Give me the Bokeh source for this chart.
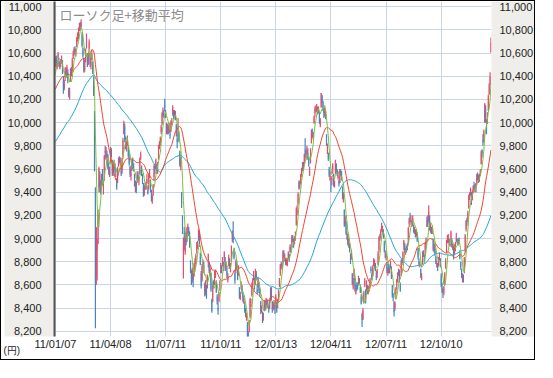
import numpy as np
import pandas as pd
from bokeh.plotting import figure
from bokeh.models import (ColumnDataSource, FixedTicker, NumeralTickFormatter,
                          LinearAxis, Label, Range1d, Title)
from bokeh.embed import file_html
from bokeh.resources import INLINE

title_text = "ローソク足+移動平均"
unit_text = "(円)"

# closes before the first shown bar (2010-09-01 .. 2011-01-06), used only for the moving averages
warmup_close = [
    8927, 9062, 9114, 9301, 9226, 9024, 9098, 9239, 9321, 9299, 9516, 9509, 9626, 9602, 9566, 9471, 9603, 9495, 9559, 9369,
    9404, 9381, 9518, 9691, 9684, 9589, 9388, 9403, 9583, 9500, 9498, 9539, 9381, 9377, 9426, 9401, 9377, 9387, 9366, 9202,
    9154, 9159, 9358, 9625, 9732, 9694, 9830, 9861, 9724, 9827, 9797, 9811, 10013, 10022, 10115, 10030, 10079, 10039, 10125, 9937,
    9988, 10168, 10178, 10167, 10141, 10232, 10285, 10211, 10293, 10316, 10309, 10311, 10303, 10216, 10370, 10346, 10279, 10355, 10292, 10344, 10229,
    10398, 10380, 10529,
]

# daily bars 2011-01-07 .. 2013-01-04, one line per month
open_ = [
    10500,10560,10480,10560,10530,10470,10510,10540,10520,10380,10300,10390,10450,10430,10430,10280,
    10230,10380,10460,10440,10570,10600,10630,10590,10660,10720,10730,10800,10850,10830,10760,10640,10560,10450,10530,
    10650,10590,10500,10640,10600,10490,10560,10520,10320,10044,9441,8680,8900,8960,9440,9550,9440,9500,9520,9430,9500,9740,
    9760,9700,9720,9600,9560,9700,9760,9660,9560,9650,9620,9560,9500,9500,9680,9700,9660,9600,9590,9720,
    9900,9960,9840,9790,9850,9800,9700,9620,9540,9600,9680,9620,9550,9440,9480,9490,9550,9490,9560,
    9700,9620,9520,9450,9380,9460,9430,9480,9420,9440,9560,9500,9380,9330,9380,9530,9620,9620,9610,9570,9700,9800,
    9840,9920,9990,10060,10080,10150,10080,9960,9900,9950,9920,9900,9930,10000,10070,10090,10050,10080,9980,9860,
    9900,9880,9750,9620,9400,9120,8900,9050,8880,9030,8990,9090,9080,8980,8810,8700,8650,8700,8680,8760,8800,8900,8950,
    8990,8990,8840,8700,8640,8770,8770,8600,8540,8600,8580,8790,8780,8690,8700,8470,8460,8620,8620,8690,
    8620,8500,8400,8460,8600,8710,8750,8760,8790,8830,8800,8740,8720,8640,8760,8800,8720,8820,9000,9010,
    8900,8700,8720,8780,8720,8700,8580,8480,8580,8580,8520,8440,8420,8360,8300,8250,8170,8200,8330,8420,
    8510,8600,8660,8650,8620,8690,8560,8600,8600,8540,8460,8380,8360,8300,8380,8420,8420,8470,8430,8400,8400,
    8550,8520,8460,8400,8420,8420,8420,8450,8400,8500,8600,8700,8780,8750,8800,8870,8830,8830,8780,
    8800,8840,8860,8880,8920,8950,9010,8960,8970,9000,9120,9230,9300,9440,9480,9480,9570,9600,9650,9650,9770,
    9700,9740,9740,9680,9560,9650,9830,9920,9870,10000,10080,10120,10100,10130,10090,10090,9980,10130,10230,10180,10100,
    10060,10090,9900,9760,9740,9600,9500,9460,9500,9600,9560,9450,9560,9640,9580,9520,9500,9480,9580,9540,
    9440,9360,9250,9120,9150,9000,9040,8940,8950,8870,8830,8700,8580,8670,8660,8520,8600,8600,8620,8640,8580,
    8500,8350,8300,8450,8600,8560,8600,8570,8540,8560,8600,8740,8690,8680,8790,8780,8760,8680,8700,8780,8900,
    9000,9030,9080,9060,9050,8960,8860,8840,8780,8700,8760,8700,8790,8740,8560,8490,8450,8400,8520,8620,8640,
    8700,8700,8600,8680,8810,8820,8940,8950,8880,8900,8940,8960,9130,9180,9150,9160,9110,9100,9040,9070,9020,9050,8920,
    8800,8770,8740,8650,8800,8880,8830,8860,8960,9100,9180,9150,9190,9060,9090,9060,8980,8900,8920,
    8840,8780,8780,8760,8840,8830,8680,8580,8540,8530,8620,8770,8880,9000,8980,8980,8940,8990,8990,8910,8900,8870,
    8920,8980,9000,8950,9000,8860,8800,8700,8640,8680,8720,8900,9080,9150,9150,9260,9360,9390,9400,9330,9420,
    9460,9450,9400,9490,9550,9480,9540,9550,9640,9760,9850,9850,10000,10120,10000,9990,10100,10240,10330,10604,
]
high = [
    10570,10580,10540,10610,10560,10530,10550,10580,10540,10400,10370,10480,10470,10500,10460,10300,
    10300,10470,10480,10560,10620,10650,10660,10640,10740,10780,10820,10860,10870,10891,10780,10650,10560,10540,10640,
    10770,10600,10600,10720,10600,10560,10630,10530,10400,10100,9441,9100,9000,9250,9620,9580,9500,9560,9600,9500,9720,9800,
    9790,9760,9730,9650,9620,9790,9780,9680,9660,9680,9650,9610,9520,9620,9700,9710,9700,9640,9700,9870,
    10017,9990,9880,9840,9890,9810,9740,9630,9600,9680,9700,9650,9560,9500,9490,9580,9580,9530,9700,
    9750,9630,9560,9480,9460,9480,9490,9560,9450,9560,9600,9510,9420,9380,9470,9640,9630,9690,9640,9660,9810,9840,
    9880,9980,10090,10130,10110,10207,10110,10000,9990,9980,10000,9940,10020,10040,10150,10110,10110,10100,9990,9900,
    10040,9920,9760,9700,9400,9200,9010,9100,9020,9050,9100,9130,9100,9060,8810,8730,8750,8700,8790,8830,8870,8970,8980,
    9080,9060,8880,8720,8780,8820,8800,8620,8640,8600,8690,8870,8800,8760,8700,8480,8620,8640,8720,8730,
    8640,8520,8450,8540,8640,8790,8770,8840,8800,8890,8840,8800,8750,8700,8860,8830,8790,8940,9070,9150,
    8920,8730,8820,8810,8730,8770,8580,8540,8630,8600,8540,8500,8450,8400,8360,8280,8200,8300,8490,8480,
    8620,8660,8720,8660,8740,8720,8610,8670,8630,8570,8460,8420,8370,8360,8470,8450,8490,8480,8460,8420,8470,
    8580,8580,8460,8450,8470,8440,8520,8450,8480,8560,8660,8780,8800,8800,8900,8900,8870,8830,8830,
    8830,8890,8870,8950,8940,9030,9030,9000,9020,9060,9270,9290,9400,9500,9500,9560,9610,9660,9660,9730,9866,
    9760,9800,9780,9700,9620,9780,9940,9950,9920,10060,10140,10150,10160,10140,10140,10090,10040,10255,10240,10190,10130,
    10130,10100,9900,9820,9740,9620,9580,9500,9540,9650,9560,9500,9680,9650,9600,9580,9510,9600,9600,9580,
    9450,9400,9250,9200,9150,9060,9040,9000,8960,8870,8900,8700,8660,8740,8660,8600,8620,8620,8680,8660,8600,
    8520,8360,8400,8550,8660,8560,8640,8600,8590,8600,8660,8760,8700,8770,8830,8820,8790,8720,8740,8890,9020,
    9040,9080,9136,9110,9080,8980,8900,8880,8800,8750,8780,8760,8810,8760,8600,8530,8460,8460,8580,8650,8710,
    8740,8730,8620,8820,8830,8890,8990,8960,8920,8940,8960,9100,9180,9222,9200,9160,9200,9120,9100,9080,9080,9050,8920,
    8830,8800,8740,8700,8890,8900,8860,8970,9010,9190,9200,9288,9200,9130,9100,9110,9000,8960,8950,
    8850,8810,8790,8840,8880,8830,8700,8620,8570,8590,8710,8830,8990,9030,9040,9000,8990,9070,9000,8960,8940,8950,
    8970,9050,9000,8990,9010,8900,8800,8740,8700,8690,8840,9040,9160,9180,9240,9380,9400,9440,9400,9420,9460,
    9490,9470,9480,9560,9570,9550,9560,9600,9760,9770,9900,9940,10170,10150,10030,10090,10240,10340,10434,10734,
]
low = [
    10480,10480,10460,10540,10480,10460,10480,10510,10420,10250,10280,10360,10390,10410,10340,10220,
    10200,10350,10400,10440,10550,10580,10590,10570,10650,10700,10720,10790,10800,10820,10650,10560,10430,10440,10520,
    10640,10480,10500,10620,10480,10460,10540,10420,10230,9578,8227,8600,8639,8950,9400,9400,9380,9450,9460,9380,9500,9680,
    9690,9650,9600,9550,9530,9650,9700,9540,9540,9600,9570,9530,9420,9480,9620,9650,9630,9540,9560,9700,
    9900,9830,9770,9750,9800,9700,9630,9530,9500,9580,9600,9580,9450,9400,9390,9480,9500,9460,9550,
    9680,9540,9470,9360,9370,9420,9420,9470,9380,9420,9520,9400,9320,9300,9370,9500,9560,9600,9560,9560,9680,9770,
    9800,9900,9980,10050,10040,10100,10040,9900,9900,9900,9910,9860,9920,9980,10060,10030,10040,10020,9880,9780,
    9880,9830,9620,9590,9264,9040,8656,8900,8860,8940,8970,9040,9020,8920,8700,8600,8620,8580,8670,8740,8780,8870,8910,
    8980,8930,8770,8570,8630,8740,8700,8500,8510,8480,8570,8750,8700,8680,8540,8359,8450,8570,8600,8660,
    8530,8430,8343,8450,8550,8700,8700,8760,8720,8800,8720,8720,8660,8620,8760,8740,8710,8800,8970,8960,
    8820,8610,8700,8740,8640,8680,8480,8470,8560,8520,8450,8440,8360,8320,8290,8150,8135,8190,8310,8410,
    8500,8580,8640,8560,8600,8640,8520,8580,8530,8500,8350,8360,8272,8290,8380,8380,8420,8420,8400,8360,8390,
    8460,8470,8360,8380,8390,8350,8420,8360,8400,8450,8580,8680,8740,8730,8800,8830,8800,8770,8770,
    8760,8820,8800,8880,8880,8930,8970,8920,8950,8980,9110,9200,9290,9420,9430,9470,9530,9580,9590,9630,9700,
    9680,9720,9680,9620,9540,9650,9820,9870,9850,9990,10050,10090,10090,10070,10080,9990,9960,10130,10170,10100,10040,
    10050,10030,9800,9730,9670,9530,9500,9400,9460,9560,9450,9440,9560,9570,9540,9510,9450,9480,9540,9500,
    9340,9310,9100,9110,9030,8990,8940,8920,8880,8780,8820,8600,8560,8640,8540,8520,8550,8560,8600,8610,8530,
    8430,8238,8300,8450,8580,8440,8540,8520,8520,8540,8570,8700,8640,8680,8760,8740,8720,8640,8660,8770,8880,
    8980,9000,9060,9050,9000,8880,8830,8810,8700,8680,8700,8700,8740,8650,8490,8460,8328,8380,8480,8560,8620,
    8680,8620,8540,8680,8770,8790,8900,8870,8860,8880,8900,8960,9100,9140,9120,9100,9110,9050,9040,9010,9020,8970,8820,
    8760,8750,8660,8640,8780,8840,8790,8850,8940,9100,9100,9150,9070,9050,9040,9040,8890,8880,8850,
    8780,8750,8720,8760,8810,8750,8580,8530,8488,8510,8600,8740,8870,8960,8960,8940,8930,8990,8920,8900,8820,8860,
    8890,8970,8950,8940,8950,8820,8730,8660,8620,8620,8700,8880,9060,9110,9150,9260,9330,9370,9290,9330,9400,
    9420,9400,9400,9460,9500,9480,9490,9540,9640,9700,9800,9830,10000,10000,9900,9990,10100,10240,10320,10604,
]
close = [
    10541,10510,10512,10589,10499,10502,10518,10557,10437,10274,10345,10464,10401,10479,10360,10238,
    10274,10457,10431,10543,10592,10636,10617,10605,10725,10746,10808,10836,10842,10857,10664,10579,10452,10526,10624,
    10754,10492,10586,10693,10505,10525,10589,10434,10254,9620,8605,9093,8962,9206,9608,9449,9435,9536,9478,9459,9708,9755,
    9708,9718,9615,9584,9590,9768,9719,9555,9641,9653,9591,9556,9441,9606,9685,9682,9671,9558,9691,9849,
    10004,9859,9794,9818,9864,9716,9648,9558,9567,9662,9620,9607,9460,9477,9422,9562,9521,9504,9693,
    9719,9555,9492,9380,9442,9449,9467,9514,9391,9547,9574,9411,9351,9354,9459,9629,9597,9678,9578,9648,9797,9816,
    9868,9965,10082,10100,10071,10138,10069,9925,9963,9936,9974,9889,10005,10010,10132,10050,10097,10047,9901,9833,
    9965,9844,9637,9659,9299,9097,8944,9038,8981,8963,9086,9107,9057,8943,8719,8628,8733,8639,8772,8797,8851,8954,8955,
    9060,8950,8784,8590,8763,8793,8737,8535,8616,8518,8668,8864,8721,8741,8560,8374,8609,8615,8701,8700,
    8545,8456,8382,8522,8605,8773,8738,8823,8747,8879,8741,8772,8682,8678,8843,8762,8748,8926,9050,8988,
    8835,8640,8801,8767,8655,8755,8500,8514,8603,8541,8463,8479,8374,8348,8314,8165,8160,8287,8477,8434,
    8597,8643,8695,8575,8722,8664,8536,8653,8553,8519,8377,8401,8296,8336,8459,8395,8479,8440,8423,8398,8455,
    8560,8488,8390,8422,8448,8385,8500,8378,8466,8550,8639,8766,8765,8785,8883,8849,8841,8793,8802,
    8809,8876,8831,8929,8917,9015,9002,8947,8999,9052,9260,9238,9384,9485,9463,9554,9595,9647,9633,9722,9723,
    9708,9777,9698,9637,9576,9768,9929,9889,9899,10051,10123,10129,10141,10086,10127,10011,10018,10255,10182,10114,10083,
    10109,10050,9819,9767,9688,9546,9538,9458,9524,9637,9470,9464,9667,9588,9561,9542,9467,9590,9561,9520,
    9350,9380,9119,9181,9045,9009,8953,8973,8900,8801,8876,8611,8633,8729,8556,8563,8593,8593,8657,8633,8542,
    8440,8295,8383,8533,8639,8459,8624,8536,8568,8568,8647,8721,8655,8752,8824,8798,8734,8663,8730,8874,9006,
    9003,9066,9104,9079,9020,8896,8857,8851,8720,8724,8755,8727,8795,8669,8508,8488,8365,8443,8566,8635,8695,
    8722,8640,8555,8803,8804,8881,8978,8891,8885,8929,8928,9092,9163,9171,9156,9131,9178,9070,9085,9033,9069,8983,8839,
    8783,8775,8679,8680,8871,8869,8807,8959,8995,9159,9123,9232,9086,9110,9069,9091,8906,8948,8870,
    8797,8786,8747,8824,8863,8769,8596,8546,8534,8577,8701,8806,8982,9002,9010,8964,8954,9055,8933,8929,8841,8928,
    8946,9007,8975,8975,8972,8837,8757,8676,8661,8664,8830,9024,9153,9142,9222,9366,9388,9423,9308,9400,9446,
    9458,9432,9468,9545,9527,9533,9525,9581,9742,9737,9828,9923,10160,10039,9940,10080,10230,10322,10395,10688,
]

x_tick_index = [0, 62, 124, 186, 248, 310, 372, 434]
x_tick_labels = ["11/01/07", "11/04/08", "11/07/11", "11/10/11",
                 "12/01/13", "12/04/11", "12/07/11", "12/10/10"]
y_ticks = [8200, 8400, 8600, 8800, 9000, 9200, 9400, 9600, 9800,
           10000, 10200, 10400, 10600, 10800, 11000]
ma_windows = [5, 25, 75]

assert len(open_) == len(high) == len(low) == len(close), (len(open_), len(high), len(low), len(close))

UP = "#e0506e"
DOWN = "#4a84c0"
MA_COLORS = {5: "#7cbf3c", 25: "#f0452d", 75: "#1fa2d6"}
GRID = "#cbd6e4"
PANEL = "#efeeea"
FONT = "Liberation Sans"

n = len(close)
xs = np.arange(n)
o = np.array(open_, dtype=float)
c = np.array(close, dtype=float)
h = np.array(high, dtype=float)
l = np.array(low, dtype=float)
full = pd.Series(warmup_close + close, dtype=float)

data = dict(
    x=xs,
    top=np.maximum(h, np.maximum(o, c)),
    bot=np.minimum(l, np.minimum(o, c)),
    btop=np.maximum(o, c),
    bbot=np.minimum(o, c),
    color=np.where(c >= o, UP, DOWN),
)
for w in ma_windows:
    data[f"ma{w}"] = full.rolling(w).mean().to_numpy()[-n:]
src = ColumnDataSource(data)

p = figure(width=535, height=360, output_backend="svg", toolbar_location=None,
           x_range=Range1d(-1, 490.6), y_range=Range1d(8155, 11045),
           min_border_left=53, min_border_right=43, min_border_top=0, min_border_bottom=25)
p.styles = {"border": "1px solid #000000"}
p.background_fill_color = "white"
p.outline_line_color = None

ax_left = p.yaxis[0]
side_bg = "background_fill_color" in ax_left.properties()
p.border_fill_color = "white" if side_bg else PANEL

p.segment(x0="x", y0="bot", x1="x", y1="top", line_color="color", line_width=1.2, source=src)
p.vbar(x="x", bottom="bbot", top="btop", width=1.0, fill_color="color", line_color=None, source=src)
for w in [75, 25, 5]:
    p.line("x", f"ma{w}", line_color=MA_COLORS[w], line_width=1, source=src)

# x axis
xax = p.xaxis[0]
xax.ticker = FixedTicker(ticks=x_tick_index)
xax.major_label_overrides = {i: s for i, s in zip(x_tick_index, x_tick_labels)}
xax.axis_line_color = None
xax.major_tick_line_color = None
xax.minor_tick_line_color = None
xax.major_tick_out = 0
xax.major_label_standoff = 1
xax.major_label_text_font = FONT
xax.major_label_text_font_size = "11px"
xax.major_label_text_color = "#222222"

# left y axis
ax_left.ticker = FixedTicker(ticks=y_ticks)
ax_left.formatter = NumeralTickFormatter(format="0,0")
ax_left.axis_line_color = "#555555"
ax_left.axis_line_width = 2
ax_left.major_tick_line_color = None
ax_left.minor_tick_line_color = None
ax_left.major_tick_out = 0
ax_left.major_label_standoff = 13
ax_left.major_label_text_font = FONT
ax_left.major_label_text_font_size = "11px"
ax_left.major_label_text_color = "#222222"

ax_right = LinearAxis(ticker=FixedTicker(ticks=y_ticks), formatter=NumeralTickFormatter(format="0,0"))
ax_right.axis_line_color = None
ax_right.major_tick_line_color = None
ax_right.minor_tick_line_color = None
ax_right.major_tick_out = 0
ax_right.major_label_standoff = 8
ax_right.major_label_text_font = FONT
ax_right.major_label_text_font_size = "11px"
ax_right.major_label_text_color = "#222222"
p.add_layout(ax_right, "right")

if side_bg:
    ax_left.background_fill_color = PANEL
    ax_right.background_fill_color = PANEL

p.xgrid.ticker = FixedTicker(ticks=x_tick_index)
p.ygrid.ticker = FixedTicker(ticks=y_ticks)
p.xgrid.grid_line_color = GRID
p.ygrid.grid_line_color = GRID

p.add_layout(Label(x=5, y=332, x_units="screen", y_units="screen", text=title_text,
                   text_font="Noto Sans CJK JP", text_font_size="13px", text_color="#8c8c8c",
                   text_baseline="top", text_align="left"))

# unit caption in the bottom-left corner (a Title in the bottom panel is not clipped to the frame)
unit_title = Title(text=unit_text, align="left", vertical_align="top", offset=-51, standoff=-15,
                   text_font="Liberation Sans", text_font_size="10px", text_font_style="normal",
                   text_color="#222222")
p.add_layout(unit_title, "below")

open("out.html", "w").write(file_html(p, INLINE))
